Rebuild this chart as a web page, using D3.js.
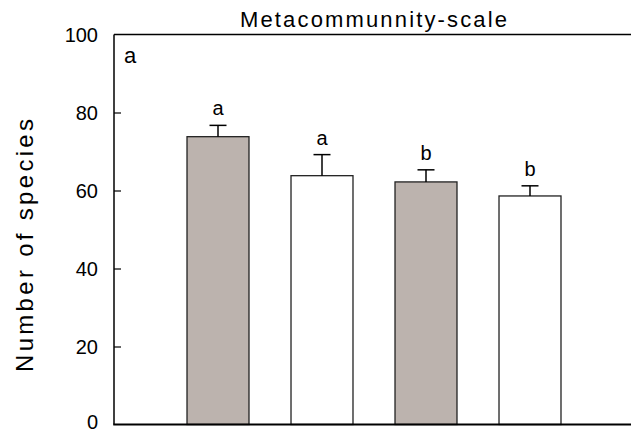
<!DOCTYPE html>
<html><head><meta charset="utf-8">
<script src="https://cdn.jsdelivr.net/npm/d3@7"></script>
<style>body{margin:0;background:#fff}svg{display:block}text{font-family:"Liberation Sans",Arial,sans-serif;fill:#000}</style>
</head><body>
<script>
const categories = ["G1","G2","G3","G4"];
const values = [73.8, 63.8, 62.2, 58.6];
const errors = [2.9, 5.4, 3.1, 2.6];
const letters = ["a","a","b","b"];
const fills = ["#bcb3ae","#ffffff","#bcb3ae","#ffffff"];
const yTicks = [0,20,40,60,80,100];
const title = "Metacommunnity-scale";
const yLabel = "Number of species";
const panel = "a";

const W=631,H=434;
const svg=d3.select("body").append("svg").attr("width",W).attr("height",H);
const x0=114, x1=634, yTop=34.5, yBot=424.5;
const x=d3.scaleBand().domain(categories).range([x0,x1]).paddingInner(0.404).paddingOuter(0.702);
const y=d3.scaleLinear().domain([0,100]).range([yBot,yTop]);

// bars
svg.selectAll("rect.bar").data(categories).join("rect")
  .attr("x",d=>x(d)).attr("width",x.bandwidth())
  .attr("y",(d,i)=>y(values[i])).attr("height",(d,i)=>y(0)-y(values[i]))
  .attr("fill",(d,i)=>fills[i]).attr("stroke","#222").attr("stroke-width",1.3);
// error bars
const cw=8.5;
categories.forEach((d,i)=>{
  const cx=x(d)+x.bandwidth()/2;
  svg.append("line").attr("x1",cx).attr("x2",cx).attr("y1",y(values[i])).attr("y2",y(values[i]+errors[i])).attr("stroke","#000").attr("stroke-width",1.5);
  svg.append("line").attr("x1",cx-cw).attr("x2",cx+cw).attr("y1",y(values[i]+errors[i])).attr("y2",y(values[i]+errors[i])).attr("stroke","#000").attr("stroke-width",1.5);
  svg.append("text").attr("x",cx).attr("y",y(values[i]+errors[i])-10).attr("text-anchor","middle").attr("font-size",20).text(letters[i]);
});

// y axis
const ya=svg.append("g").attr("transform",`translate(${x0},0)`)
  .call(d3.axisLeft(y).tickValues(yTicks).tickSize(-7).tickPadding(16));
ya.select(".domain").remove();
ya.selectAll(".tick line").attr("stroke","#000").attr("stroke-width",1.2);
ya.selectAll(".tick text").attr("font-size",20).attr("font-family",null).attr("dy",d=>d===0?"0.2em":"0.36em");
ya.selectAll(".tick").filter(d=>d===0||d===100).select("line").remove();
svg.append("line").attr("x1",x0).attr("x2",x0).attr("y1",yTop).attr("y2",yBot).attr("stroke","#000").attr("stroke-width",1.5);
svg.append("line").attr("x1",x0).attr("x2",W).attr("y1",yTop).attr("y2",yTop).attr("stroke","#000").attr("stroke-width",1.5);
svg.append("line").attr("x1",x0-0.75).attr("x2",W).attr("y1",yBot).attr("y2",yBot).attr("stroke","#000").attr("stroke-width",2.2);

// title
svg.append("text").attr("x",240).attr("y",27).attr("font-size",22).attr("textLength",267).attr("lengthAdjust","spacing").text(title);
// panel label
svg.append("text").attr("x",124).attr("y",63).attr("font-size",22).text(panel);
// y label
svg.append("text").attr("transform",`translate(33,${372}) rotate(-90)`).attr("font-size",24).attr("textLength",253).attr("lengthAdjust","spacing").text(yLabel);
</script>
</body></html>
